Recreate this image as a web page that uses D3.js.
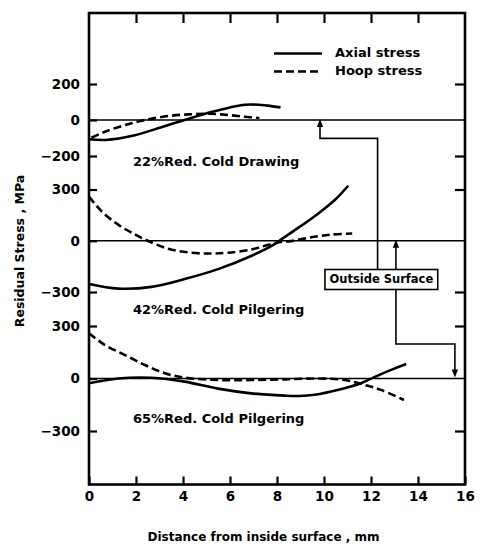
<!DOCTYPE html>
<html><head><meta charset="utf-8">
<script src="https://cdn.jsdelivr.net/npm/d3@7"></script>
<style>
html,body{margin:0;padding:0;background:#fff;}
text{font-family:"DejaVu Sans",sans-serif;font-weight:bold;fill:#000;}
</style></head>
<body><svg id="c" width="482" height="550"></svg>
<script>
// ---------- data ----------
const xTicks = [0, 2, 4, 6, 8, 10, 12, 14, 16];
const panelNames = ["22%Red. Cold Drawing", "42%Red. Cold Pilgering", "65%Red. Cold Pilgering"];
const panelTicks = [[200, 0, -200], [300, 0, -300], [300, 0, -300]];
const seriesNames = ["Axial stress", "Hoop stress"];

// 22% Red. Cold Drawing
const axial22 = [[0,-107],[0.7,-111],[1.95,-85],[3.08,-40],[4.07,0],[5.2,44],[6.0,70],[6.65,85],[7.2,85],[7.6,80],[8.15,70]];
const hoop22  = [[0.1,-98],[0.68,-65],[1.53,-28],[2.38,0],[3.37,22],[4.36,32],[5.2,35],[5.9,28],[6.62,18],[7.25,11]];
// 42% Red. Cold Pilgering
const axial42 = [[0,-253],[1.24,-280],[2.66,-270],[4.07,-224],[5.49,-166],[6.9,-89],[7.9,-20],[8.1,0],[8.9,75],[9.76,160],[10.47,240],[11.03,322]];
const hoop42  = [[0,258],[0.54,172],[1.24,94],[1.95,37],[2.5,0],[3.37,-47],[4.36,-70],[5.2,-75],[5.9,-70],[6.9,-52],[7.6,-25],[8.1,-8],[8.6,-2],[9.45,20],[10.3,36],[11.2,42]];
// 65% Red. Cold Pilgering
const axial65 = [[0,-27],[1.24,0],[2.66,4],[4.07,-18],[5.49,-58],[6.9,-85],[8.32,-98],[8.96,-100],[9.6,-93],[10.58,-66],[11.57,-27],[12.1,5],[12.78,45],[13.5,83]];
const hoop65  = [[0,258],[0.68,191],[1.53,134],[2.38,77],[3.23,30],[4.07,5],[5.49,-9],[6.9,-9],[8.32,-5],[9.73,0],[10.9,-9],[11.74,-37],[12.42,-65],[13.4,-123]];

const panelSeries = [[axial22, hoop22], [axial42, hoop42], [axial65, hoop65]];

// ---------- layout ----------
const frame = {left: 89, right: 465, top: 13, bottom: 484.5};
const panelRanges = [[156, 84], [292, 189.5], [431, 326]];
const panelLabelBaseline = [166, 314, 423];

const svg = d3.select("#c");
const x = d3.scaleLinear().domain([xTicks[0], xTicks[xTicks.length-1]]).range([frame.left, frame.right]);
const ys = panelTicks.map((t, i) => d3.scaleLinear().domain(d3.extent(t)).range(panelRanges[i]));
const fmt = d => d < 0 ? "\u2212" + Math.abs(d) : String(d);

const tickStyle = g => {
  g.select(".domain").remove();
  g.selectAll(".tick line").attr("stroke", "#000").attr("stroke-width", 2.2);
  g.selectAll(".tick text").attr("font-size", 13.5).attr("font-family", "DejaVu Sans").attr("font-weight", "bold").attr("fill", "#000");
};

// left / right axes per panel
ys.forEach((y, i) => {
  svg.append("g").attr("transform", `translate(${frame.left},0)`)
    .call(d3.axisLeft(y).tickValues(panelTicks[i]).tickSize(-8).tickPadding(9).tickFormat(fmt))
    .call(tickStyle);
  svg.append("g").attr("transform", `translate(${frame.right},0)`)
    .call(d3.axisRight(y).tickValues(panelTicks[i].filter(v => v !== 0)).tickSize(-10).tickFormat(""))
    .call(tickStyle);
  // zero line
  svg.append("line").attr("x1", frame.left).attr("x2", frame.right)
    .attr("y1", y(0)).attr("y2", y(0)).attr("stroke", "#000").attr("stroke-width", 1.6);
});

// bottom / top axes
svg.append("g").attr("transform", `translate(0,${frame.bottom})`)
  .call(d3.axisBottom(x).tickValues(xTicks).tickSize(-8).tickPadding(7).tickFormat(d => d))
  .call(tickStyle);
svg.append("g").attr("transform", `translate(0,${frame.top})`)
  .call(d3.axisTop(x).tickValues(xTicks.slice(1, -1)).tickSize(-10).tickFormat(""))
  .call(tickStyle);

// frame
svg.append("rect").attr("x", frame.left).attr("y", frame.top)
  .attr("width", frame.right - frame.left).attr("height", frame.bottom - frame.top)
  .attr("fill", "none").attr("stroke", "#000").attr("stroke-width", 2.6);

// curves
const dashes = [null, "8,4"];
panelSeries.forEach((ser, i) => {
  const line = d3.line().x(d => x(d[0])).y(d => ys[i](d[1])).curve(d3.curveCatmullRom.alpha(0.5));
  ser.forEach((s, k) => {
    svg.append("path").attr("d", line(s)).attr("fill", "none")
      .attr("stroke", "#000").attr("stroke-width", 2.6)
      .attr("stroke-dasharray", dashes[k]);
  });
  svg.append("text").attr("x", x(1.87)).attr("y", panelLabelBaseline[i])
    .attr("font-size", 13).text(panelNames[i]);
});

// legend
const legY = [53.5, 71.5];
seriesNames.forEach((n, k) => {
  svg.append("line").attr("x1", 274).attr("x2", 322).attr("y1", legY[k]).attr("y2", legY[k])
    .attr("stroke", "#000").attr("stroke-width", 2.6).attr("stroke-dasharray", dashes[k]);
  svg.append("text").attr("x", 335).attr("y", legY[k] + 3.5).attr("font-size", 13).text(n);
});

// annotation: Outside Surface
const box = {x0: 10.04, x1: 14.84, top: 269.5, bottom: 289.5};
const ann = svg.append("g").attr("fill", "none").attr("stroke", "#000").attr("stroke-width", 1.6);
const p = d3.line();
const yA = ys[0](-102);
ann.append("path").attr("d", p([[x(9.83), ys[0](0) + 5], [x(9.83), yA], [x(12.28), yA], [x(12.28), box.top]]));
ann.append("path").attr("d", p([[x(13.06), box.top], [x(13.06), ys[1](0) + 5]]));
const yB = ys[2](197);
ann.append("path").attr("d", p([[x(13.06), box.bottom], [x(13.06), yB], [x(15.57), yB], [x(15.57), ys[2](0) - 5]]));
ann.append("rect").attr("x", x(box.x0)).attr("y", box.top)
  .attr("width", x(box.x1) - x(box.x0)).attr("height", box.bottom - box.top).attr("fill", "#fff");
const head = (cx, tipY, dir) => {
  svg.append("path").attr("d", p([[cx, tipY], [cx - 3.2, tipY + dir * 8], [cx + 3.2, tipY + dir * 8]]) + "Z").attr("fill", "#000");
};
head(x(9.83), ys[0](0) - 1, 1);
head(x(13.06), ys[1](0) - 1, 1);
head(x(15.57), ys[2](0) - 1, -1);
svg.append("text").attr("x", (x(box.x0) + x(box.x1)) / 2).attr("y", box.top + 13)
  .attr("text-anchor", "middle").attr("font-size", 11.5).text("Outside Surface");

// axis titles
svg.append("text").attr("x", 263.5).attr("y", 541).attr("text-anchor", "middle")
  .attr("font-size", 12).text("Distance from inside surface , mm");
svg.append("text").attr("transform", "translate(24,251) rotate(-90)").attr("text-anchor", "middle")
  .attr("font-size", 12.5).text("Residual Stress , MPa");
</script></body></html>
